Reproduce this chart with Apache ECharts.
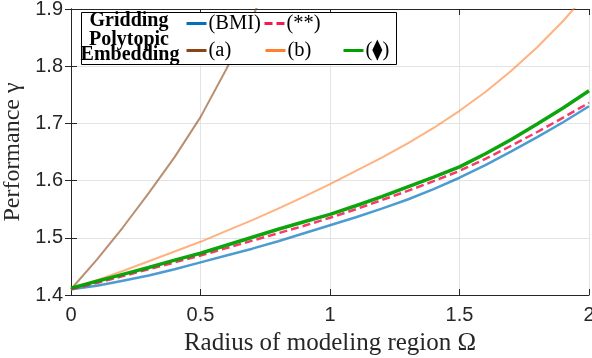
<!DOCTYPE html>
<html><head><meta charset="utf-8">
<script src="https://cdn.jsdelivr.net/npm/echarts@6/dist/echarts.min.js"></script>
<style>html,body{margin:0;padding:0;background:#fff}#c{width:592px;height:358px}</style>
</head><body><div id="c"></div>
<script>
// ---- data ----
const xsCommon = [0,0.1,0.2,0.3,0.4,0.5,0.6,0.7,0.8,0.9,1.0,1.1,1.2,1.3,1.4,1.5,1.6,1.7,1.8,1.9,2.0];
const bmiVals  = [1.410,1.416,1.425,1.434,1.445,1.457,1.469,1.481,1.494,1.508,1.522,1.536,1.551,1.567,1.585,1.605,1.627,1.651,1.676,1.702,1.730];
const starVals = [1.410,1.421,1.433,1.445,1.457,1.469,1.482,1.495,1.508,1.521,1.535,1.550,1.566,1.582,1.599,1.617,1.638,1.661,1.685,1.710,1.736];
const diamVals = [1.412,1.424,1.436,1.448,1.461,1.473,1.487,1.501,1.515,1.528,1.541,1.556,1.572,1.589,1.606,1.624,1.647,1.672,1.699,1.727,1.757];
const xsA = [0,0.1,0.2,0.3,0.4,0.5,0.6,0.7,0.72];
const aVals = [1.410,1.462,1.518,1.578,1.641,1.711,1.795,1.886,1.905];
const xsB = [0,0.1,0.2,0.3,0.4,0.5,0.6,0.7,0.8,0.9,1.0,1.1,1.2,1.3,1.4,1.5,1.6,1.7,1.8,1.9,1.95];
const bVals = [1.410,1.426,1.442,1.459,1.476,1.493,1.512,1.531,1.551,1.572,1.594,1.617,1.640,1.665,1.692,1.722,1.755,1.792,1.833,1.879,1.905];
const xTicks = [0,0.5,1,1.5,2];
const yTicks = [1.4,1.5,1.6,1.7,1.8,1.9];
const names = ['(BMI)','(**)','(a)','(b)','(\u29EB)'];

const pairs = (xs, ys) => xs.map((x,i)=>[x, ys[i]]);
const serif = '"Liberation Serif","DejaVu Serif",serif';
const sans = '"Liberation Sans",Arial,sans-serif';
const axCol = '#262626';

const chart = echarts.init(document.getElementById('c'), null, {renderer:'canvas'});
const mkLegend = (name, left, top) => ({
  data:[name], left, top, orient:'horizontal', padding:0, itemGap:0,
  itemWidth:20, itemHeight:14, selectedMode:false, z:6,
  textStyle:{fontFamily:serif, fontSize:20.5, color:'#000', padding:[0,0,0,-3]},
  lineStyle:{opacity:1, width:3},
  itemStyle:{opacity:0}
});
const mkSeries = (name, data, color, width, opacity, type) => ({
  name, type:'line', data, symbol:'none', showSymbol:false, clip:true, smooth:false,
  itemStyle:{color},
  lineStyle:{color, width, opacity, type: type||'solid'},
  emphasis:{disabled:true}, animation:false
});

chart.setOption({
  animation:false,
  grid:{left:71, right:3, top:9, bottom:63, containLabel:false, outerBoundsMode:'none'},
  xAxis:[{
    type:'value', min:0, max:2, interval:0.5,
    name:'Radius of modeling region \u03A9', nameLocation:'middle', nameGap:36,
    nameTextStyle:{fontFamily:serif, fontSize:25, color:axCol},
    axisLine:{lineStyle:{color:axCol,width:1}},
    axisTick:{inside:true, length:6, lineStyle:{color:axCol}},
    axisLabel:{fontFamily:sans, fontSize:20, color:axCol, margin:10,
      formatter:v=>String(v)},
    splitLine:{show:true, lineStyle:{color:'#e3e3e3', width:1}}
  },{
    type:'value', min:0, max:2, interval:0.5, position:'top',
    axisLine:{show:true, lineStyle:{color:axCol,width:1}},
    axisTick:{inside:true, length:6, lineStyle:{color:axCol}},
    axisLabel:{show:false}, splitLine:{show:false}
  }],
  yAxis:[{
    type:'value', min:1.4, max:1.9, interval:0.1,
    name:'Performance \u03B3', nameLocation:'middle', nameGap:44,
    nameTextStyle:{fontFamily:serif, fontSize:24, color:axCol},
    axisLine:{show:true, lineStyle:{color:axCol,width:1}},
    axisTick:{show:true, inside:true, length:6, lineStyle:{color:axCol}},
    axisLabel:{fontFamily:sans, fontSize:20, color:axCol, margin:8,
      formatter:v=>v.toFixed(1)},
    splitLine:{show:true, lineStyle:{color:'#e3e3e3', width:1}}
  },{
    type:'value', min:1.4, max:1.9, interval:0.1, position:'right',
    axisLine:{show:true, lineStyle:{color:axCol,width:1}},
    axisTick:{show:true, inside:true, length:6, lineStyle:{color:axCol}},
    axisLabel:{show:false}, splitLine:{show:false}
  }],
  legend:[
    mkLegend(names[0], 185, 13),
    mkLegend(names[1], 263, 13),
    mkLegend(names[2], 185, 40),
    mkLegend(names[3], 264, 40),
    mkLegend(names[4], 342, 40)
  ],
  graphic:[
    {type:'rect', z:5, shape:{x:81.5, y:12.5, width:315, height:52},
      style:{fill:'#fff', stroke:'#000', lineWidth:1}},
    {type:'text', z:7, x:129, y:21, style:{text:'Gridding', fontFamily:serif, fontSize:20, fontWeight:'bold', fill:'#000', align:'center', verticalAlign:'middle'}},
    {type:'text', z:7, x:129, y:40, style:{text:'Polytopic', fontFamily:serif, fontSize:20, fontWeight:'bold', fill:'#000', align:'center', verticalAlign:'middle'}},
    {type:'text', z:7, x:130, y:55, style:{text:'Embedding', fontFamily:serif, fontSize:20, fontWeight:'bold', fill:'#000', align:'center', verticalAlign:'middle'}}
  ],
  series:[
    mkSeries(names[2], pairs(xsA, aVals), '#8B4513', 2, 0.6),
    mkSeries(names[3], pairs(xsB, bVals), '#FF7F2A', 2, 0.6),
    mkSeries(names[0], pairs(xsCommon, bmiVals), '#0072BD', 2.5, 0.7),
    mkSeries(names[1], pairs(xsCommon, starVals), '#F5174F', 2.5, 0.85, [8,4]),
    mkSeries(names[4], pairs(xsCommon, diamVals), '#00A000', 3.5, 0.95)
  ]
});
</script></body></html>
